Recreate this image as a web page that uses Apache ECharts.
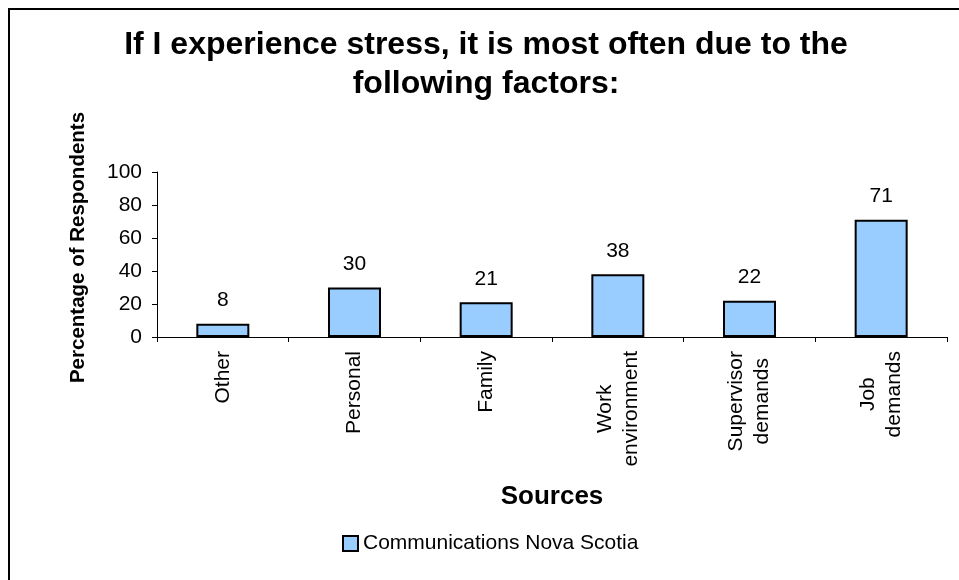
<!DOCTYPE html>
<html>
<head>
<meta charset="utf-8">
<script src="https://cdn.jsdelivr.net/npm/echarts@6/dist/echarts.min.js"></script>
<style>
html,body{margin:0;padding:0;background:#fff;}
#main{width:959px;height:580px;}
</style>
</head>
<body>
<div id="main"></div>
<script>
var titleText = 'If I experience stress, it is most often due to the\nfollowing factors:';
var categories = ['Other', 'Personal', 'Family', 'Work\nenvironment', 'Supervisor\ndemands', 'Job\ndemands'];
var values = [8, 30, 21, 38, 22, 71];
var seriesName = 'Communications Nova Scotia';
var yAxisName = 'Percentage of Respondents';
var xAxisName = 'Sources';

var FONT = '"Liberation Sans", Arial, sans-serif';
var chart = echarts.init(document.getElementById('main'), null, {renderer: 'canvas'});
chart.setOption({
  backgroundColor: '#fff',
  animation: false,
  textStyle: {fontFamily: FONT, color: '#000'},
  graphic: [{
    type: 'rect',
    silent: true,
    shape: {x: 9, y: 9, width: 1000, height: 1000},
    style: {fill: 'none', stroke: '#000', lineWidth: 2}
  }],
  title: {
    text: titleText,
    left: 486,
    top: 26,
    textAlign: 'center',
    padding: 0,
    textStyle: {fontFamily: FONT, fontSize: 32, fontWeight: 'bold', color: '#000', lineHeight: 39}
  },
  legend: {
    data: [seriesName],
    left: 342,
    top: 533,
    padding: 0,
    itemWidth: 15,
    itemHeight: 15,
    icon: 'rect',
    itemStyle: {color: '#99CCFF', borderColor: '#000', borderWidth: 2},
    textStyle: {fontFamily: FONT, fontSize: 21, color: '#000'}
  },
  grid: {left: 157, right: 12, top: 172, bottom: 243, containLabel: false},
  xAxis: {
    type: 'category',
    data: categories,
    name: xAxisName,
    nameLocation: 'middle',
    nameGap: 147,
    nameTextStyle: {fontFamily: FONT, fontSize: 26, fontWeight: 'bold', color: '#000'},
    axisLine: {show: true, lineStyle: {color: '#000', width: 1}},
    axisTick: {show: true, length: 5, lineStyle: {color: '#000'}},
    axisLabel: {
      rotate: 90,
      interval: 0,
      margin: 14,
      formatter: function (v) {
        return v.split('\n').map(function (s) { return '{c|' + s + '}'; }).join('\n');
      },
      rich: {
        c: {align: 'center', fontFamily: FONT, fontSize: 21, lineHeight: 26, color: '#000'}
      }
    },
    splitLine: {show: false}
  },
  yAxis: {
    type: 'value',
    min: 0,
    max: 100,
    interval: 20,
    name: yAxisName,
    nameLocation: 'middle',
    nameGap: 68,
    nameRotate: 90,
    nameTextStyle: {fontFamily: FONT, fontSize: 20.5, fontWeight: 'bold', color: '#000', padding: [0, 0, 0, 14]},
    axisLine: {show: true, lineStyle: {color: '#000', width: 1}},
    axisTick: {show: true, length: 5, lineStyle: {color: '#000'}},
    axisLabel: {margin: 15, fontFamily: FONT, fontSize: 21, color: '#000'},
    splitLine: {show: false}
  },
  series: [{
    name: seriesName,
    type: 'bar',
    data: values,
    barWidth: 53,
    itemStyle: {color: '#99CCFF', borderColor: '#000', borderWidth: 2},
    label: {show: true, position: 'top', distance: 13, fontFamily: FONT, fontSize: 21, color: '#000'}
  }]
});
</script>
</body>
</html>
